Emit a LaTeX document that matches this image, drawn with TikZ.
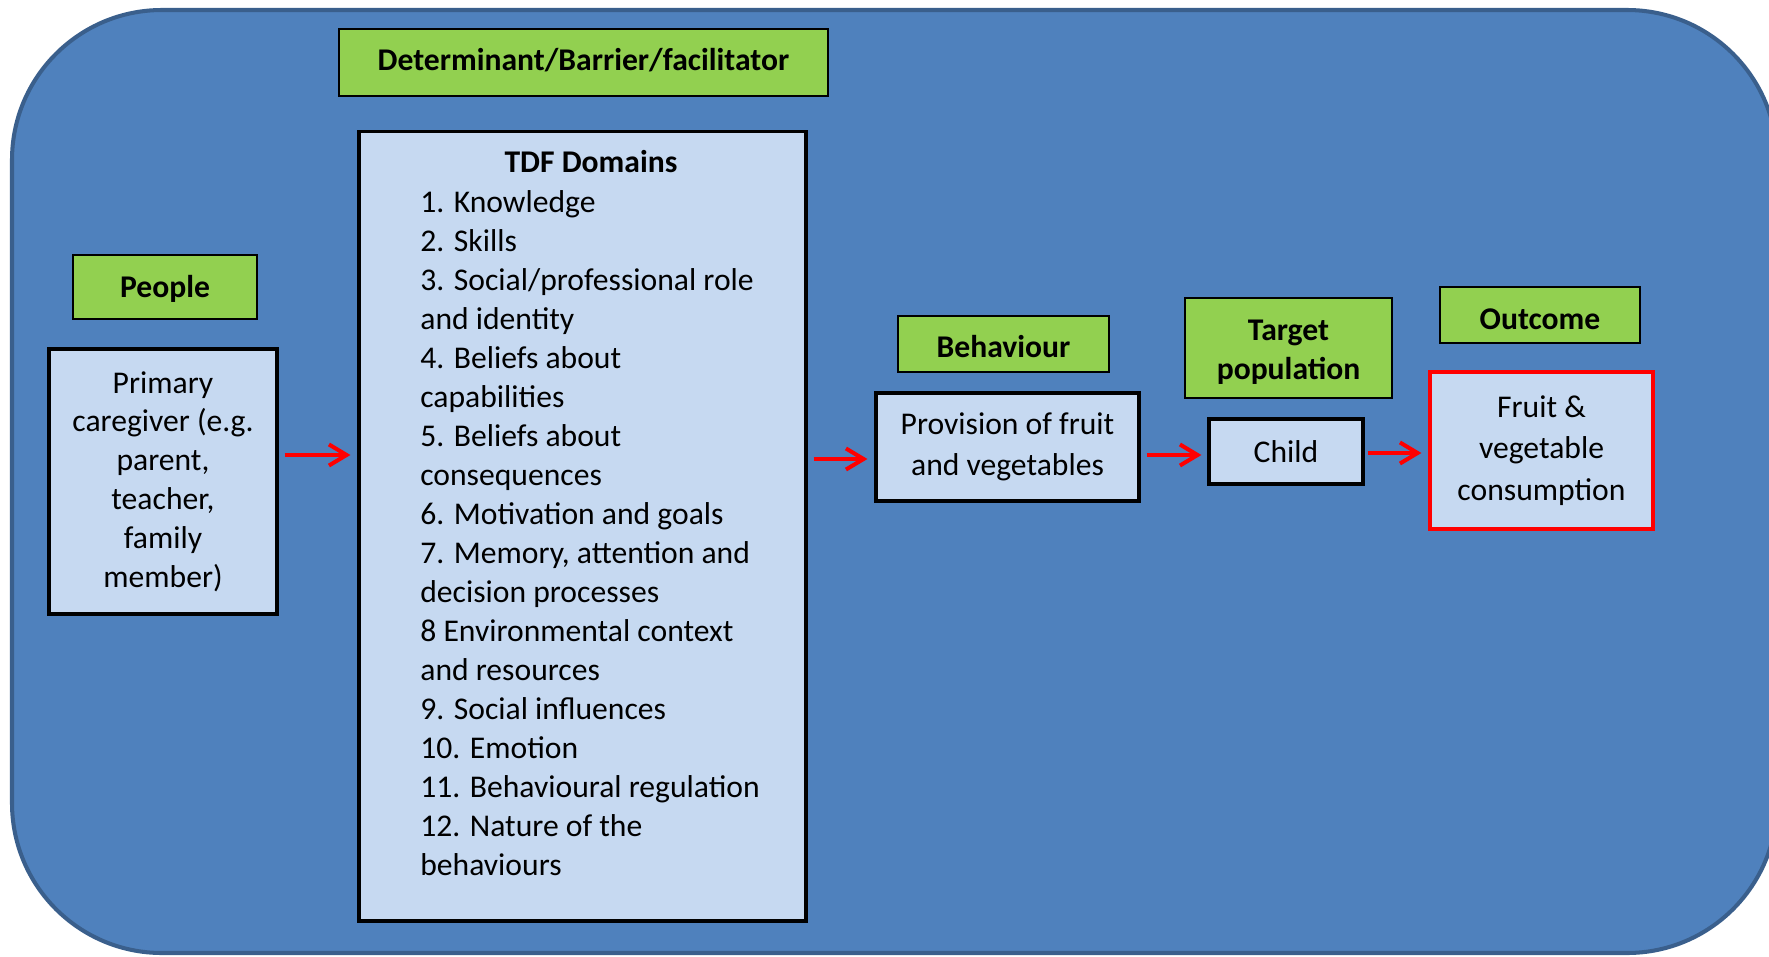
\documentclass[tikz,border=0pt]{standalone}
\usepackage{fontspec}
\setmainfont{Carlito}
\usetikzlibrary{arrows.meta,calc}
\definecolor{bgblue}{HTML}{4F81BD}
\definecolor{bgline}{HTML}{3A5F8C}
\definecolor{boxblue}{HTML}{C6D9F1}
\definecolor{labgreen}{HTML}{92D050}
\newcommand{\shiftdown}[2]{\raisebox{-#1}[\height][\depth]{#2}}
\tikzset{
  lab/.style={draw=black, line width=1.6pt, fill=labgreen, font=\fontsize{18}{22.1}\selectfont\bfseries, align=center, inner sep=0pt},
  box/.style={draw=black, line width=1.8pt, fill=boxblue, font=\fontsize{18}{22.1}\selectfont, align=center, inner sep=0pt},
  redbox/.style={box, draw=red},
  item/.style={anchor=base west, inner sep=0pt, font=\fontsize{18}{22.1}\selectfont},
  arr/.style={draw=red, line width=2.3pt, -{Straight Barb[length=10pt,width=12pt]}}
}
\begin{document}
\begin{tikzpicture}[x=0.02cm, y=-0.02cm]
\useasboundingbox (0,0) rectangle (1769,957);
\begin{scope}
\clip (0,0) rectangle (1769,957);
\draw[fill=bgblue, draw=bgline, line width=2.3pt, rounded corners=3cm] (12,10) rectangle (1777,953);
\end{scope}
% labels
\node[lab, minimum width=9.78cm, minimum height=1.34cm] (det) at (583.5,62.5) {\shiftdown{-1.1pt}{Determinant/Barrier/facilitator}};
\node[lab, minimum width=3.68cm, minimum height=1.28cm] (people) at (165,287) {\shiftdown{1.1pt}{People}};
\node[lab, minimum width=4.22cm, minimum height=1.12cm] (beh) at (1003.5,344) {\shiftdown{1.7pt}{Behaviour}};
\node[lab, minimum width=4.14cm, minimum height=2.0cm] (tgt) at (1288.5,348) {\shiftdown{2.3pt}{\begin{tabular}{@{}c@{}}Target\\population\end{tabular}}};
\node[lab, minimum width=4.0cm, minimum height=1.12cm] (out) at (1540,315) {\shiftdown{2.5pt}{Outcome}};
% boxes
\node[box, minimum width=8.94cm, minimum height=15.8cm] (tdf) at (582.5,526) {};
\node[box, minimum width=4.56cm, minimum height=5.30cm] (care) at (163,481.5) {Primary\\caregiver (e.g.\\parent,\\teacher,\\family\\member)};
\node[box, minimum width=5.26cm, minimum height=2.16cm, font=\fontsize{18}{23}\selectfont] (prov) at (1007.5,447) {Provision of fruit\\and vegetables};
\node[box, minimum width=3.08cm, minimum height=1.30cm] (child) at (1286,451.5) {Child};
\node[redbox, minimum width=4.46cm, minimum height=3.14cm, font=\fontsize{18}{23.6}\selectfont] (fruit) at (1541.5,450.5) {Fruit \&\\vegetable\\consumption};
% TDF content
\node[anchor=base, inner sep=0pt, font=\fontsize{18}{22.1}\selectfont\bfseries] (tdft) at (591,172) {TDF Domains};
\foreach \t [count=\i from 0] in {1. Knowledge, 2. Skills, 3. Social/professional role, and identity, 4. Beliefs about, capabilities, 5. Beliefs about, consequences, 6. Motivation and goals, {7. Memory, attention and}, decision processes, 8 Environmental context, and resources, 9. Social influences, 10. Emotion, 11. Behavioural regulation, 12. Nature of the, behaviours}
  \node[item] (tdfl\i) at (420,212+39*\i) {\t};
% arrows
\draw[arr] ($(care.east |- 0,455)+(6,0)$) -- ($(tdf.west |- 0,455)+(-7,0)$);
\draw[arr] ($(tdf.east |- 0,459)+(6,0)$) -- ($(prov.west |- 0,459)+(-7,0)$);
\draw[arr] ($(prov.east |- 0,455)+(6,0)$) -- ($(child.west |- 0,455)+(-6,0)$);
\draw[arr] ($(child.east |- 0,453)+(3,0)$) -- ($(fruit.west |- 0,453)+(-7,0)$);
\end{tikzpicture}
\end{document}
